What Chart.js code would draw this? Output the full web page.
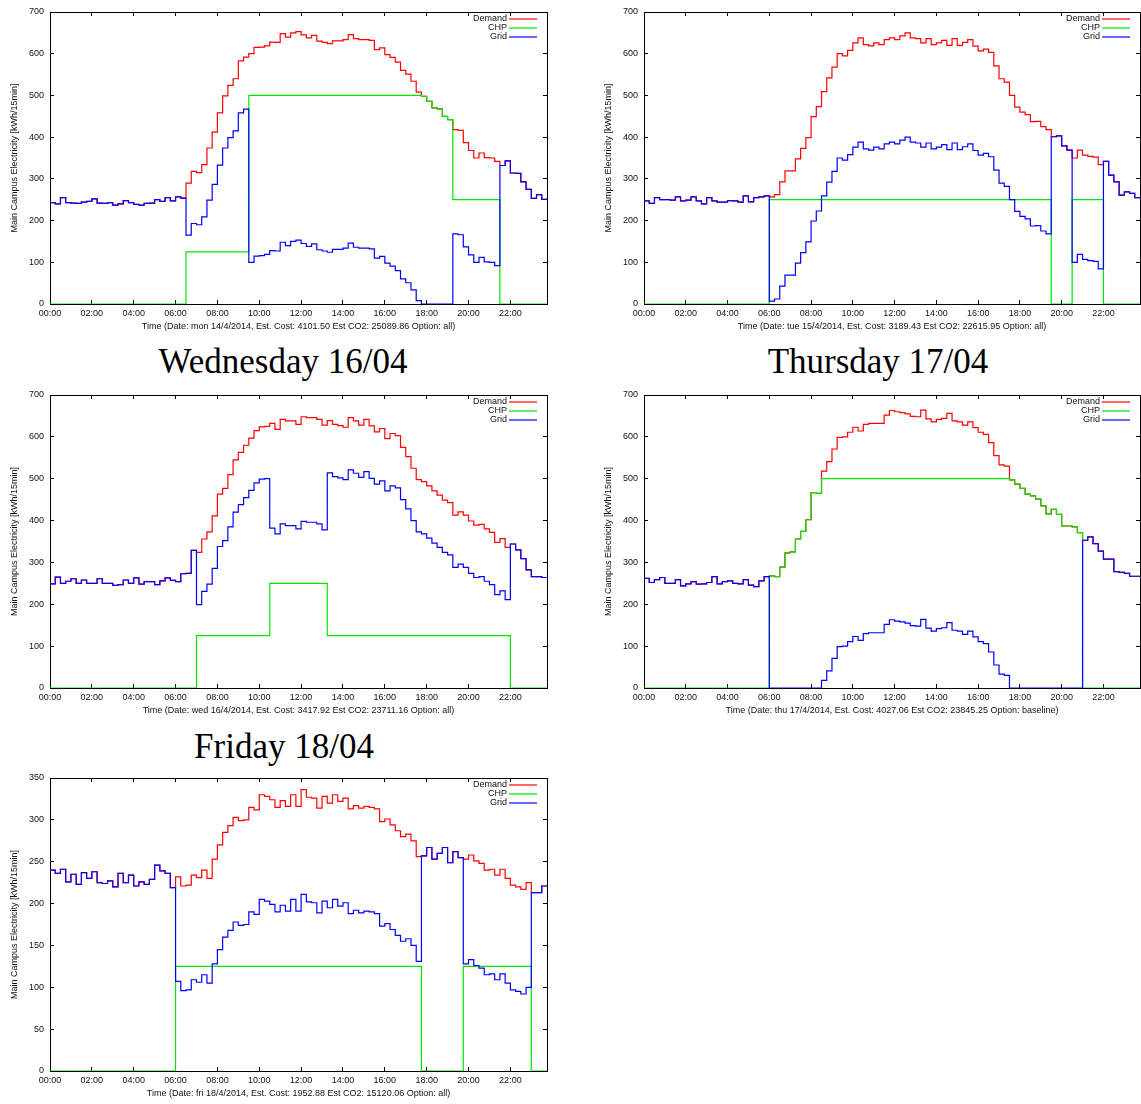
<!DOCTYPE html>
<html>
<head>
<meta charset="utf-8">
<script src="https://cdn.jsdelivr.net/npm/chart.js@4.4.1/dist/chart.umd.min.js"></script>
<style>
  body { margin: 0; background: #fff; width: 1141px; height: 1104px; position: relative; overflow: hidden; }
  canvas { position: absolute; }
  .day { position: absolute; font-family: "Liberation Serif", serif; font-size: 35px; line-height: 35px; color: #000; white-space: nowrap; transform: translateX(-50%); }
</style>
</head>
<body>
<div class="day" style="left:283px; top:344px;">Wednesday 16/04</div>
<div class="day" style="left:878px; top:344px;">Thursday 17/04</div>
<div class="day" style="left:284px; top:729px;">Friday 18/04</div>
<script>
// quarter-hour readings, 96 per day (00:00 .. 23:45), kWh/15min
const monDemand = [243,240,255,243,242,241,244,246,252,242,241,243,237,240,248,243,239,237,241,242,250,246,255,247,257,254,
  290,318,315,334,374,412,458,499,524,540,583,592,
  600,615,616,619,628,627,648,640,
  650,653,645,638,644,630,627,624,631,631,634,646,636,634,634,632,
  610,614,598,591,580,560,551,534,508,498,486,470,468,450,442,
  418,416,387,368,350,362,351,350,342,332,343,314,313,293,275,253,262,251,251];
const monChp = [0,0,0,0,0,0,0,0,0,0,0,0,0,0,0,0,0,0,0,0,0,0,0,0,0,0,
  125,125,125,125,125,125,125,125,125,125,125,125,
  500,500,500,500,500,500,500,500,500,500,500,500,500,500,500,500,500,500,500,500,500,500,500,500,500,500,500,500,500,500,500,500,500,
  498,486,470,468,450,442,
  250,250,250,250,250,250,250,250,250,
  0,0,0,0,0,0,0,0,0,0];
const monGrid = [243,240,255,243,242,241,244,246,252,242,241,243,237,240,248,243,239,237,241,242,250,246,255,247,257,254,
  165,193,190,209,249,287,333,374,399,415,458,467,
  100,115,116,119,128,127,148,140,
  150,153,145,138,144,130,127,124,131,131,134,146,136,134,134,132,
  110,114,98,91,80,60,51,34,8,
  0,0,0,0,0,0,
  168,166,137,118,100,112,101,100,92,
  332,343,314,313,293,275,253,262,251,251];

const tueDemand = [247,241,255,250,250,249,257,247,249,257,247,240,255,247,244,244,248,247,244,259,245,255,257,259,
  257,262,293,319,319,348,373,399,449,473,509,542,568,600,595,608,626,638,622,619,626,622,
  634,638,634,643,650,638,636,626,636,622,626,632,620,636,620,627,634,
  618,607,611,603,571,540,532,500,472,460,454,437,438,425,418,401,403,379,369,
  350,369,357,354,352,334,
  342,309,293,261,269,265,255,255];
const tueChp = [0,0,0,0,0,0,0,0,0,0,0,0,0,0,0,0,0,0,0,0,0,0,0,0,
  250,250,250,250,250,250,250,250,250,250,250,250,250,250,250,250,250,250,250,250,250,250,250,250,250,250,250,
  250,250,250,250,250,250,250,250,250,250,250,250,250,250,250,250,250,250,250,250,250,250,250,250,250,250,250,
  0,0,0,0,
  250,250,250,250,250,250,
  0,0,0,0,0,0,0,0];
const tueGrid = [247,241,255,250,250,249,257,247,249,257,247,240,255,247,244,244,248,247,244,259,245,255,257,259,
  7,12,43,69,69,98,123,149,199,223,259,292,318,350,345,358,376,388,372,369,376,372,
  384,388,384,393,400,388,386,376,386,372,376,382,370,386,370,377,384,
  368,357,361,353,321,290,282,250,222,210,204,187,188,175,168,
  401,403,379,369,
  100,119,107,104,102,84,
  342,309,293,261,269,265,255,255];

const wedDemand = [249,265,250,255,261,250,258,250,250,261,250,250,245,247,258,250,263,248,254,254,247,256,263,257,254,273,274,329,
  324,356,373,411,463,477,510,545,563,580,597,615,624,625,
  632,618,642,638,638,630,648,646,646,642,628,639,630,627,623,646,638,628,642,626,612,620,596,608,603,575,553,525,498,
  493,483,471,461,449,443,413,421,413,399,389,391,380,372,348,357,336,344,330,309,282,266,266,264,264];
const wedChp = [0,0,0,0,0,0,0,0,0,0,0,0,0,0,0,0,0,0,0,0,0,0,0,0,0,0,0,0,
  125,125,125,125,125,125,125,125,125,125,125,125,125,125,
  250,250,250,250,250,250,250,250,250,250,250,
  125,125,125,125,125,125,125,125,125,125,125,125,125,125,125,125,125,125,
  125,125,125,125,125,125,125,125,125,125,125,125,125,125,125,125,125,
  0,0,0,0,0,0,0,0];
const wedGrid = [249,265,250,255,261,250,258,250,250,261,250,250,245,247,258,250,263,248,254,254,247,256,263,257,254,273,274,329,
  199,231,248,286,338,352,385,420,438,455,472,490,499,500,
  382,368,392,388,388,380,398,396,396,392,378,
  514,505,502,498,521,513,503,517,501,487,495,471,483,478,450,428,400,373,
  368,358,346,336,324,318,288,296,288,274,264,266,255,247,223,232,211,
  344,330,309,282,266,266,264,264];

const thuDemand = [262,252,259,264,250,250,259,244,249,254,248,249,252,266,249,254,256,250,249,259,246,242,256,266,
  268,266,289,323,325,356,374,402,467,465,
  518,541,571,599,600,611,
  623,614,630,632,632,632,652,663,660,658,655,649,648,664,643,636,642,644,656,638,636,628,636,622,611,606,586,555,533,530,
  497,487,477,463,459,451,435,416,427,415,387,387,385,371,
  353,361,345,327,308,308,278,276,274,267,267,267];
const thuChp = [0,0,0,0,0,0,0,0,0,0,0,0,0,0,0,0,0,0,0,0,0,0,0,0,
  268,266,289,323,325,356,374,402,467,465,
  500,500,500,500,500,500,
  500,500,500,500,500,500,500,500,500,500,500,500,500,500,500,500,500,500,500,500,500,500,500,500,500,500,500,500,500,500,
  497,487,477,463,459,451,435,416,427,415,387,387,385,371,
  0,0,0,0,0,0,0,0,0,0,0,0];
const thuGrid = [262,252,259,264,250,250,259,244,249,254,248,249,252,266,249,254,256,250,249,259,246,242,256,266,
  0,0,0,0,0,0,0,0,0,0,
  18,41,71,99,100,111,
  123,114,130,132,132,132,152,163,160,158,155,149,148,164,143,136,142,144,156,138,136,128,136,122,111,106,86,55,33,30,
  0,0,0,0,0,0,0,0,0,0,0,0,0,0,
  353,361,345,327,308,308,278,276,274,267,267,267];

const friDemand = [240,236,241,226,235,223,237,230,238,225,224,227,220,236,225,234,221,226,223,229,246,239,236,219,
  232,221,222,234,231,240,230,253,270,285,293,303,299,300,315,312,330,328,
  324,315,323,316,330,316,336,327,326,314,328,320,330,322,326,313,317,314,316,315,313,298,301,294,287,280,283,275,256,
  257,267,253,260,267,249,262,255,
  253,258,251,248,240,241,234,241,230,222,220,217,225,
  213,213,221,221];
const friChp = [0,0,0,0,0,0,0,0,0,0,0,0,0,0,0,0,0,0,0,0,0,0,0,0,
  125,125,125,125,125,125,125,125,125,125,125,125,125,125,125,125,125,125,
  125,125,125,125,125,125,125,125,125,125,125,125,125,125,125,125,125,125,125,125,125,125,125,125,125,125,125,125,125,
  0,0,0,0,0,0,0,0,
  125,125,125,125,125,125,125,125,125,125,125,125,125,
  0,0,0,0];
const friGrid = [240,236,241,226,235,223,237,230,238,225,224,227,220,236,225,234,221,226,223,229,246,239,236,219,
  107,96,97,109,106,115,105,128,145,160,168,178,174,175,190,187,205,203,
  199,190,198,191,205,191,211,202,201,189,203,195,205,197,201,188,192,189,191,190,188,173,176,169,162,155,158,150,131,
  257,267,253,260,267,249,262,255,
  128,133,126,123,115,116,109,116,105,97,95,92,100,
  213,213,221,221];

const tickHours = [0, 2, 4, 6, 8, 10, 12, 14, 16, 18, 20, 22];
const seriesNames = ['Demand', 'CHP', 'Grid'];
const seriesColors = ['#ff0000', '#00e600', '#0000ff'];
const yTitle = 'Main Campus Electricity [kWh/15min]';

const panels = [
  { l: 50, t: 12, r: 547, b: 304, padR: 10, yMax: 700, yStep: 100, series: [monDemand, monChp, monGrid],
    xTitle: 'Time (Date: mon 14/4/2014, Est. Cost: 4101.50 Est CO2: 25089.86 Option: all)' },
  { l: 644, t: 12, r: 1140, b: 304, padR: 1, yMax: 700, yStep: 100, series: [tueDemand, tueChp, tueGrid],
    xTitle: 'Time (Date: tue 15/4/2014, Est. Cost: 3189.43 Est CO2: 22615.95 Option: all)' },
  { l: 50, t: 395, r: 547, b: 688, padR: 10, yMax: 700, yStep: 100, series: [wedDemand, wedChp, wedGrid],
    xTitle: 'Time (Date: wed 16/4/2014, Est. Cost: 3417.92 Est CO2: 23711.16 Option: all)' },
  { l: 644, t: 395, r: 1140, b: 688, padR: 1, yMax: 700, yStep: 100, series: [thuDemand, thuChp, thuGrid],
    xTitle: 'Time (Date: thu 17/4/2014, Est. Cost: 4027.06 Est CO2: 23845.25 Option: baseline)' },
  { l: 50, t: 778, r: 547, b: 1071, padR: 10, yMax: 350, yStep: 50, series: [friDemand, friChp, friGrid],
    xTitle: 'Time (Date: fri 18/4/2014, Est. Cost: 1952.88 Est CO2: 15120.06 Option: all)' },
];

const FONT = { family: '"Liberation Sans", Arial, sans-serif', size: 9 };
const INK = '#111';

// gnuplot style key: right aligned label, then a line sample
const keyBox = {
  id: 'keyBox',
  afterDatasetsDraw(chart) {
    const { ctx, chartArea: a } = chart;
    ctx.save();
    ctx.font = '9px "Liberation Sans", Arial, sans-serif';
    ctx.textAlign = 'right';
    ctx.textBaseline = 'middle';
    seriesNames.forEach((name, k) => {
      const y = a.top + 7 + k * 9;
      ctx.fillStyle = INK;
      ctx.fillText(name, a.right - 40, y);
      ctx.strokeStyle = seriesColors[k];
      ctx.lineWidth = 1.2;
      ctx.beginPath();
      ctx.moveTo(a.right - 38, y);
      ctx.lineTo(a.right - 10, y);
      ctx.stroke();
    });
    ctx.restore();
  }
};

const hourTicks = (scale) => { scale.ticks = tickHours.map(h => ({ value: h })); };
const hh = (v) => String(v).padStart(2, '0') + ':00';
// keep the plot frame where it is: no extra room for the outer tick labels
const noPad = (s) => { s.paddingTop = 0; s.paddingBottom = 0; s.paddingLeft = 0; s.paddingRight = 0; };

function edgeAxis(position, min, max, step) {
  return {
    type: 'linear', position, min, max,
    ticks: { display: false, stepSize: step },
    grid: { drawOnChartArea: false, drawTicks: true, tickLength: -4, color: '#000', lineWidth: 1 },
    border: { display: true, color: '#000', width: 1 },
    afterFit: (s) => { noPad(s); if (s.isHorizontal()) s.height = 0; else s.width = 0; },
  };
}

panels.forEach((p) => {
  const canvas = document.createElement('canvas');
  const left = p.l - 50, top = p.t - 12;
  const w = p.r - left + p.padR, h = p.b - top + 34;
  canvas.width = w; canvas.height = h;
  canvas.style.left = left + 'px'; canvas.style.top = top + 'px';
  canvas.style.width = w + 'px'; canvas.style.height = h + 'px';
  document.body.appendChild(canvas);

  const datasets = p.series.map((vals, k) => ({
    label: seriesNames[k],
    data: vals.map((v, i) => ({ x: i * 0.25, y: v })),
    borderColor: seriesColors[k],
    borderWidth: 1.2,
    stepped: true,
    pointRadius: 0,
    fill: false,
    order: 2 - k,
  }));

  const xTop = edgeAxis('top', 0, 23.75);
  xTop.afterBuildTicks = hourTicks;

  new Chart(canvas, {
    type: 'line',
    data: { datasets },
    options: {
      responsive: false,
      animation: false,
      devicePixelRatio: 1,
      layout: { padding: { top: 12, right: p.padR, left: 0, bottom: 0 } },
      plugins: { legend: { display: false }, tooltip: { enabled: false } },
      scales: {
        x: {
          type: 'linear', position: 'bottom', min: 0, max: 23.75,
          afterBuildTicks: hourTicks,
          ticks: { callback: hh, font: FONT, color: INK, padding: 8, maxRotation: 0, autoSkip: false },
          grid: { drawOnChartArea: false, drawTicks: true, tickLength: -4, color: '#000', lineWidth: 1 },
          border: { display: true, color: '#000', width: 1 },
          title: { display: true, text: p.xTitle, font: FONT, color: INK, padding: { top: 0, bottom: 6 } },
          afterFit: (s) => { noPad(s); s.height = 34; },
        },
        x2: xTop,
        y: {
          type: 'linear', position: 'left', min: 0, max: p.yMax,
          ticks: { stepSize: p.yStep, font: FONT, color: INK, padding: 10 },
          grid: { drawOnChartArea: false, drawTicks: true, tickLength: -4, color: '#000', lineWidth: 1 },
          border: { display: true, color: '#000', width: 1 },
          title: { display: true, text: yTitle, font: FONT, color: INK, padding: { top: 9, bottom: 0 } },
          afterFit: (s) => { noPad(s); s.width = 50; },
        },
        y2: edgeAxis('right', 0, p.yMax, p.yStep),
      },
    },
    plugins: [keyBox],
  });
});
</script>
</body>
</html>
